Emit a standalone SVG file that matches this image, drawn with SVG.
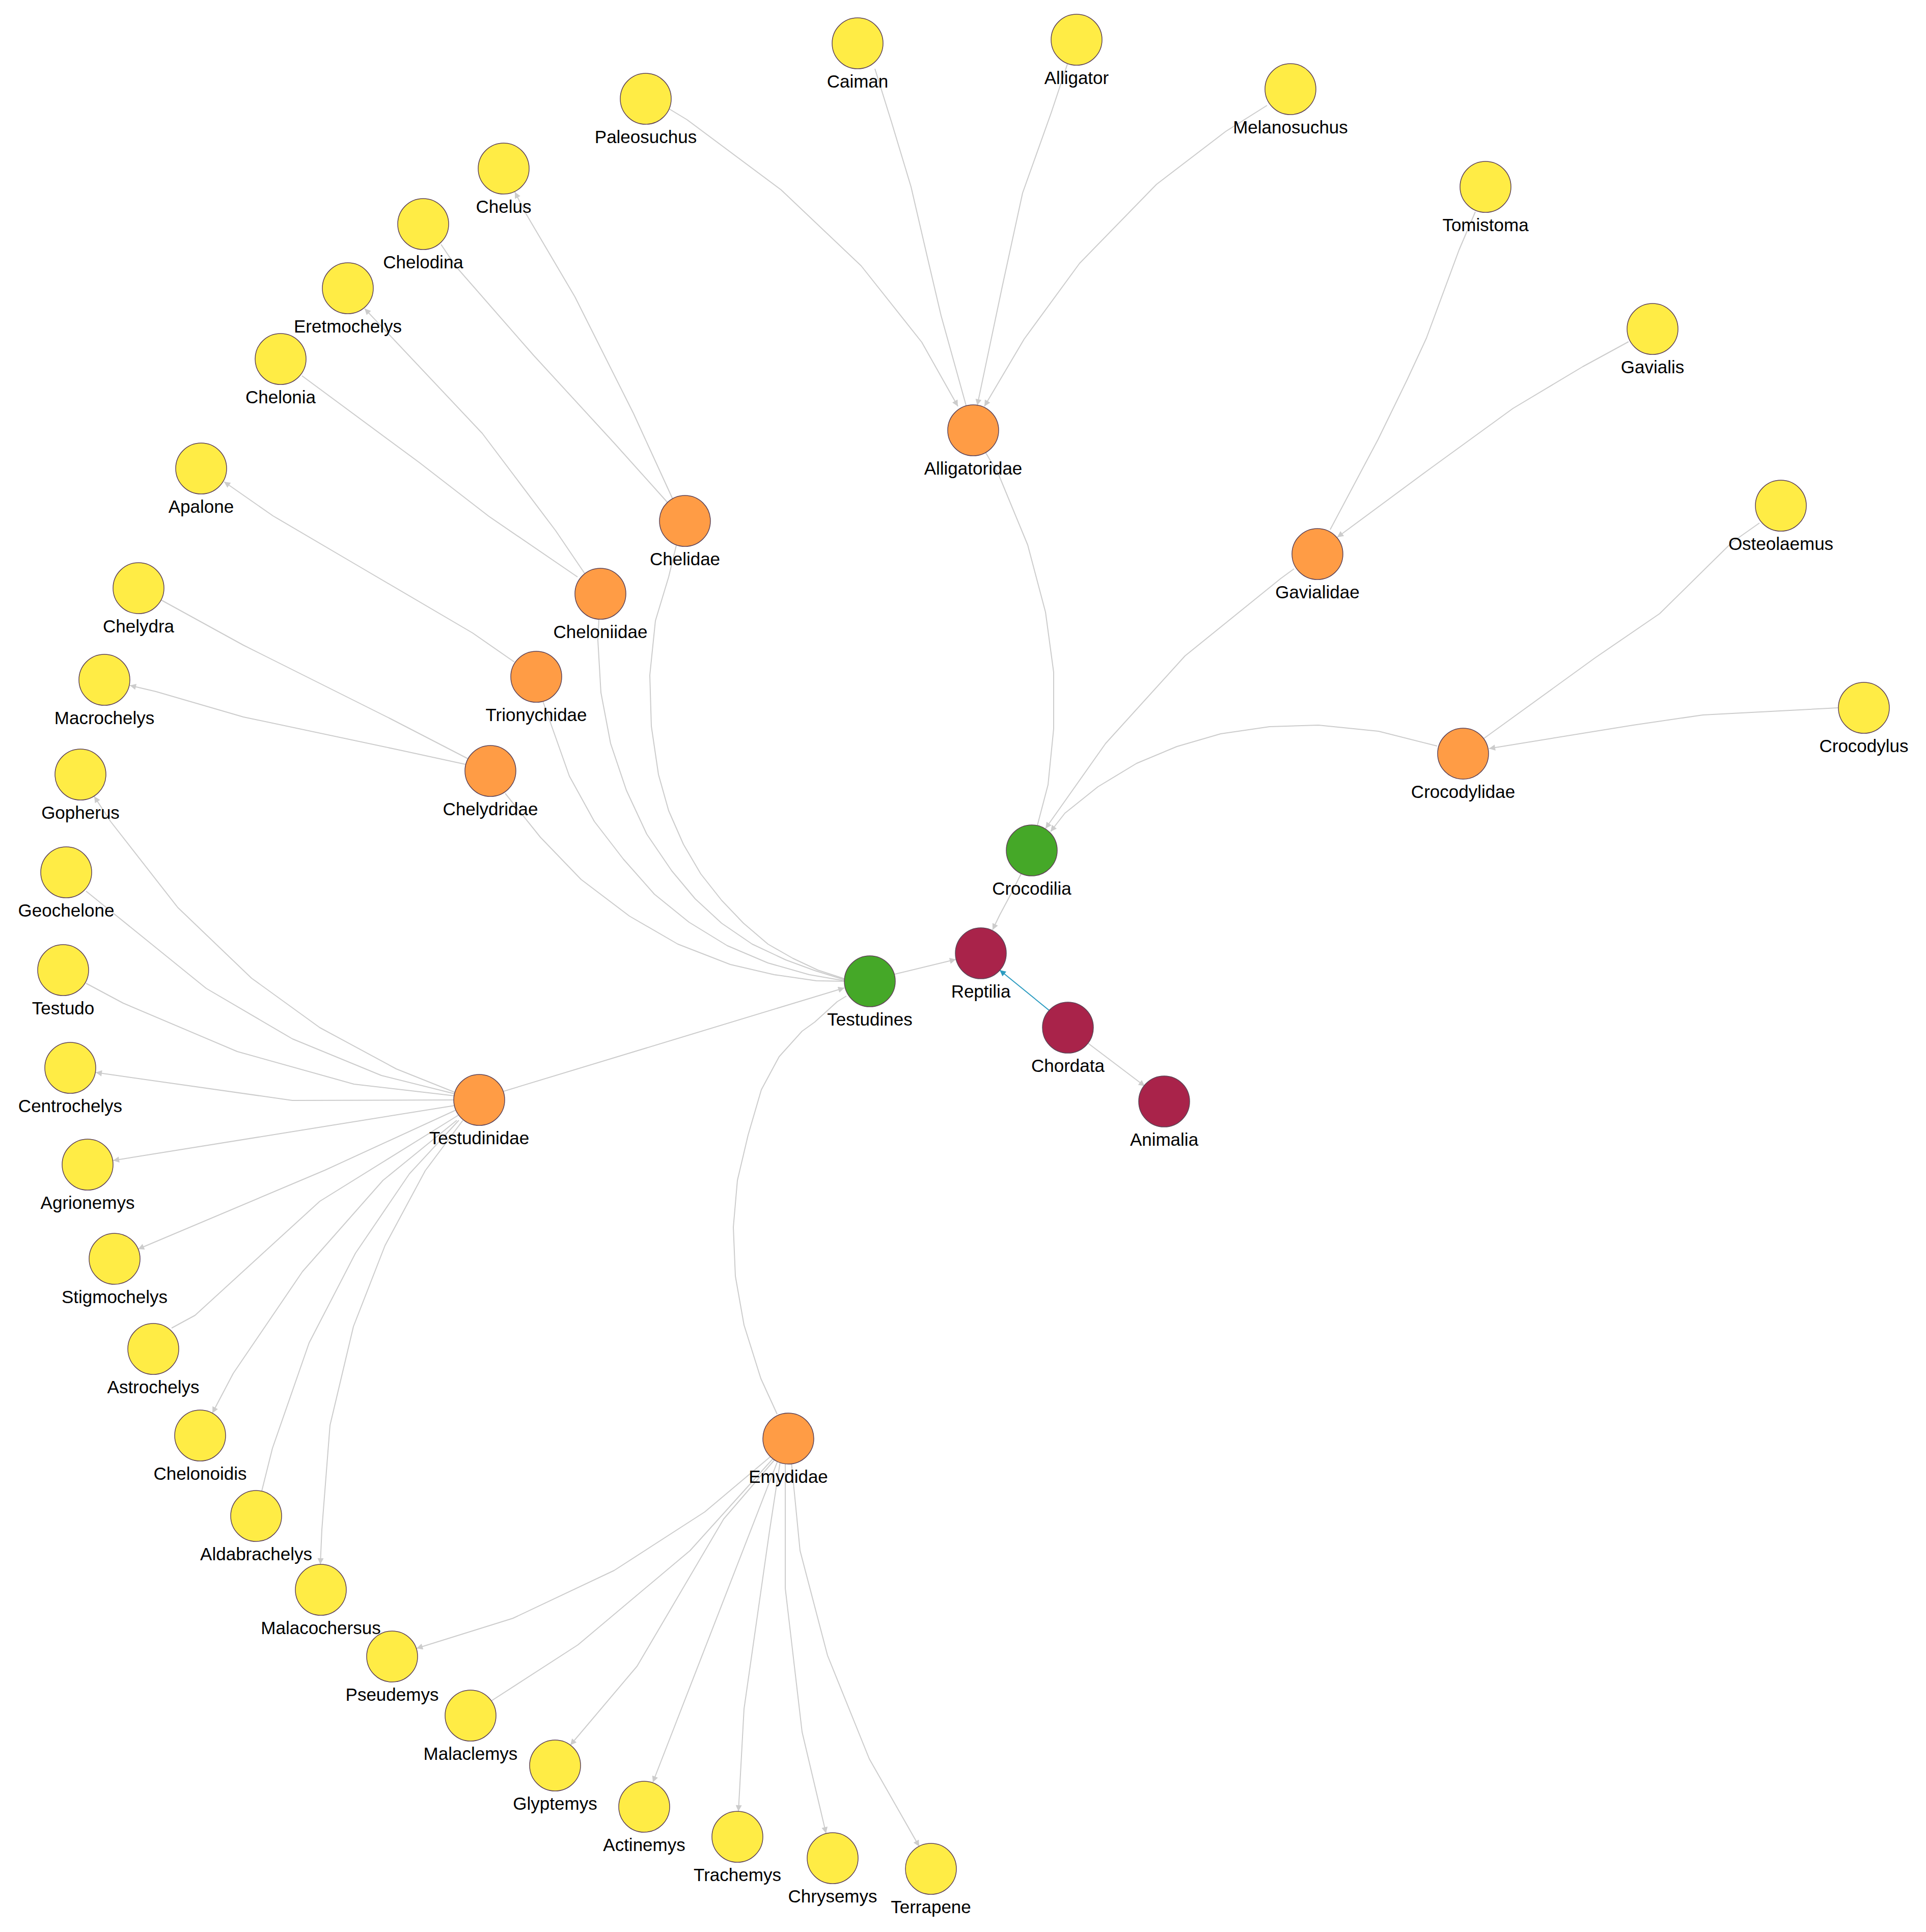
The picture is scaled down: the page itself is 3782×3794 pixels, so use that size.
<svg xmlns="http://www.w3.org/2000/svg" width="3782" height="3794" viewBox="0 0 3782 3794">
<style>
.e{fill:none;stroke:#cccccc;stroke-width:2;stroke-linejoin:round}
.a{marker-end:url(#arr)}
.b{fill:none;stroke:#2a9bc0;stroke-width:2;marker-end:url(#arrb)}
.n circle{stroke:#5e4356;stroke-width:1.5}
.y circle{fill:#ffec45}
.o circle{fill:#ff9c45}
.g circle{fill:#45a828}
.r circle{fill:#a9234a}
text{font-family:"Liberation Sans",Arial,sans-serif;font-size:35px;fill:#000;text-anchor:middle}
</style>
<defs>
<marker id="arr" viewBox="0 0 10 10" refX="10" refY="5" markerWidth="14" markerHeight="12" markerUnits="userSpaceOnUse" orient="auto"><path d="M0,0 L10,5 L0,10 z" fill="#cccccc"/></marker>
<marker id="arrb" viewBox="0 0 10 10" refX="10" refY="5" markerWidth="14" markerHeight="12" markerUnits="userSpaceOnUse" orient="auto"><path d="M0,0 L10,5 L0,10 z" fill="#2a9bc0"/></marker>
</defs>
<rect width="3782" height="3794" fill="#ffffff"/>
<g id="edges">
<path class="e a" d="M1311,212 L1349,235 L1534,373 L1691,522 L1810,672 L1881,798"/>
<path class="e" d="M1718,135 L1751,241 L1789,367 L1821,505 L1848,620 L1897,796"/>
<path class="e a" d="M2096,126 L2064,222 L2008,379 L1968,563 L1919,796"/>
<path class="e a" d="M2488,207 L2407,258 L2271,362 L2120,517 L2011,666 L1933,798"/>
<path class="e" d="M1935,888 L1961,932 L2018,1070 L2053,1202 L2069,1320 L2069,1431 L2058,1541 L2037,1621"/>
<path class="e" d="M2897,416 L2865,491 L2801,664 L2763,746 L2706,863 L2612,1040"/>
<path class="e a" d="M3198,671 L3108,720 L2971,802 L2810,919 L2626,1055"/>
<path class="e a" d="M2541,1117 L2515,1136 L2327,1288 L2171,1460 L2053,1627"/>
<path class="e a" d="M2822,1465 L2707,1436 L2589,1424 L2493,1427 L2397,1441 L2311,1466 L2232,1499 L2156,1545 L2091,1597 L2063,1633"/>
<path class="e" d="M3455,1027 L3401,1065 L3259,1205 L3132,1292 L2914,1450"/>
<path class="e a" d="M3609,1390 L3344,1404 L3207,1424 L2924,1470"/>
<path class="e a" d="M2005,1716 L1987,1752 L1963,1797 L1949,1826"/>
<path class="e a" d="M1757,1913 L1877,1884"/>
<path class="b" d="M2060,1984 L1963,1905"/>
<path class="e a" d="M2137,2049 L2248,2133"/>
<path class="e a" d="M1321,980 L1244,812 L1129,583 L1033,420 L1011,377"/>
<path class="e" d="M1311,987 L1206,870 L1048,698 L895,523 L866,480"/>
<path class="e a" d="M1148,1126 L1091,1042 L947,851 L766,659 L716,606"/>
<path class="e" d="M1134,1133 L960,1014 L823,908 L593,738"/>
<path class="e a" d="M1010,1300 L928,1243 L708,1114 L536,1013 L440,946"/>
<path class="e" d="M919,1490 L766,1411 L478,1267 L316,1178"/>
<path class="e a" d="M914,1501 L785,1473 L478,1408 L306,1358 L255,1346"/>
<path class="e" d="M1328,1071 L1313,1133 L1287,1219 L1276,1326 L1279,1426 L1293,1521 L1313,1592 L1342,1658 L1376,1716 L1417,1768 L1460,1813 L1508,1854 L1557,1882 L1606,1905 L1658,1922"/>
<path class="e" d="M1176,1216 L1174,1257 L1180,1360 L1199,1460 L1230,1552 L1270,1638 L1319,1710 L1365,1765 L1417,1813 L1477,1854 L1543,1885 L1600,1906 L1658,1924"/>
<path class="e" d="M1066,1377 L1118,1524 L1167,1613 L1224,1687 L1285,1756 L1353,1811 L1428,1857 L1508,1891 L1589,1914 L1658,1926"/>
<path class="e" d="M992,1558 L1061,1644 L1141,1727 L1236,1799 L1331,1854 L1434,1894 L1520,1914 L1603,1926 L1658,1927"/>
<path class="e a" d="M989,2143 L1658,1940"/>
<path class="e" d="M1526,2777 L1494,2707 L1461,2602 L1444,2506 L1440,2410 L1448,2318 L1469,2229 L1495,2140 L1530,2075 L1575,2025 L1600,2007 L1644,1967 L1662,1956"/>
<path class="e a" d="M893,2145 L778,2099 L628,2018 L494,1921 L349,1782 L217,1613 L185,1564"/>
<path class="e" d="M893,2148 L749,2112 L574,2040 L405,1941 L169,1750"/>
<path class="e" d="M893,2152 L695,2129 L466,2065 L242,1970 L169,1931"/>
<path class="e a" d="M893,2160 L574,2161 L188,2106"/>
<path class="e a" d="M893,2171 L638,2212 L222,2279"/>
<path class="e a" d="M895,2180 L638,2298 L271,2453"/>
<path class="e" d="M900,2190 L628,2359 L383,2583 L337,2608"/>
<path class="e a" d="M897,2200 L752,2318 L594,2497 L458,2697 L417,2775"/>
<path class="e" d="M901,2200 L804,2305 L698,2461 L607,2637 L535,2844 L514,2928"/>
<path class="e a" d="M909,2200 L835,2299 L756,2446 L694,2605 L648,2799 L632,3004 L629,3072"/>
<path class="e a" d="M1517,2857 L1384,2969 L1206,3084 L1007,3178 L818,3237"/>
<path class="e" d="M1521,2861 L1355,3045 L1135,3230 L965,3340"/>
<path class="e a" d="M1525,2862 L1421,2983 L1251,3272 L1120,3427"/>
<path class="e a" d="M1529,2864 L1282,3500"/>
<path class="e a" d="M1533,2864 L1511,3007 L1461,3356 L1450,3557"/>
<path class="e a" d="M1542,2867 L1542,3119 L1575,3401 L1622,3600"/>
<path class="e a" d="M1554,2871 L1571,3045 L1625,3251 L1707,3454 L1805,3626"/>
</g>
<g id="node-Caiman" class="n y"><circle cx="1684" cy="85" r="50"/><text x="1684" y="172">Caiman</text></g>
<g id="node-Alligator" class="n y"><circle cx="2114" cy="78" r="50"/><text x="2114" y="165">Alligator</text></g>
<g id="node-Paleosuchus" class="n y"><circle cx="1268" cy="194" r="50"/><text x="1268" y="281">Paleosuchus</text></g>
<g id="node-Melanosuchus" class="n y"><circle cx="2534" cy="175" r="50"/><text x="2534" y="262">Melanosuchus</text></g>
<g id="node-Tomistoma" class="n y"><circle cx="2917" cy="367" r="50"/><text x="2917" y="454">Tomistoma</text></g>
<g id="node-Gavialis" class="n y"><circle cx="3245" cy="646" r="50"/><text x="3245" y="733">Gavialis</text></g>
<g id="node-Osteolaemus" class="n y"><circle cx="3497" cy="993" r="50"/><text x="3497" y="1080">Osteolaemus</text></g>
<g id="node-Crocodylus" class="n y"><circle cx="3660" cy="1390" r="50"/><text x="3660" y="1477">Crocodylus</text></g>
<g id="node-Alligatoridae" class="n o"><circle cx="1911" cy="845" r="50"/><text x="1911" y="932">Alligatoridae</text></g>
<g id="node-Gavialidae" class="n o"><circle cx="2587" cy="1088" r="50"/><text x="2587" y="1175">Gavialidae</text></g>
<g id="node-Crocodylidae" class="n o"><circle cx="2873" cy="1480" r="50"/><text x="2873" y="1567">Crocodylidae</text></g>
<g id="node-Crocodilia" class="n g"><circle cx="2026" cy="1670" r="50"/><text x="2026" y="1757">Crocodilia</text></g>
<g id="node-Chelus" class="n y"><circle cx="989" cy="331" r="50"/><text x="989" y="418">Chelus</text></g>
<g id="node-Chelodina" class="n y"><circle cx="831" cy="440" r="50"/><text x="831" y="527">Chelodina</text></g>
<g id="node-Eretmochelys" class="n y"><circle cx="683" cy="566" r="50"/><text x="683" y="653">Eretmochelys</text></g>
<g id="node-Chelonia" class="n y"><circle cx="551" cy="705" r="50"/><text x="551" y="792">Chelonia</text></g>
<g id="node-Apalone" class="n y"><circle cx="395" cy="920" r="50"/><text x="395" y="1007">Apalone</text></g>
<g id="node-Chelydra" class="n y"><circle cx="272" cy="1155" r="50"/><text x="272" y="1242">Chelydra</text></g>
<g id="node-Macrochelys" class="n y"><circle cx="205" cy="1335" r="50"/><text x="205" y="1422">Macrochelys</text></g>
<g id="node-Gopherus" class="n y"><circle cx="158" cy="1521" r="50"/><text x="158" y="1608">Gopherus</text></g>
<g id="node-Geochelone" class="n y"><circle cx="130" cy="1713" r="50"/><text x="130" y="1800">Geochelone</text></g>
<g id="node-Testudo" class="n y"><circle cx="124" cy="1905" r="50"/><text x="124" y="1992">Testudo</text></g>
<g id="node-Centrochelys" class="n y"><circle cx="138" cy="2097" r="50"/><text x="138" y="2184">Centrochelys</text></g>
<g id="node-Agrionemys" class="n y"><circle cx="172" cy="2287" r="50"/><text x="172" y="2374">Agrionemys</text></g>
<g id="node-Stigmochelys" class="n y"><circle cx="225" cy="2472" r="50"/><text x="225" y="2559">Stigmochelys</text></g>
<g id="node-Astrochelys" class="n y"><circle cx="301" cy="2649" r="50"/><text x="301" y="2736">Astrochelys</text></g>
<g id="node-Chelonoidis" class="n y"><circle cx="393" cy="2819" r="50"/><text x="393" y="2906">Chelonoidis</text></g>
<g id="node-Aldabrachelys" class="n y"><circle cx="503" cy="2977" r="50"/><text x="503" y="3064">Aldabrachelys</text></g>
<g id="node-Malacochersus" class="n y"><circle cx="630" cy="3122" r="50"/><text x="630" y="3209">Malacochersus</text></g>
<g id="node-Pseudemys" class="n y"><circle cx="770" cy="3253" r="50"/><text x="770" y="3340">Pseudemys</text></g>
<g id="node-Malaclemys" class="n y"><circle cx="924" cy="3369" r="50"/><text x="924" y="3456">Malaclemys</text></g>
<g id="node-Glyptemys" class="n y"><circle cx="1090" cy="3467" r="50"/><text x="1090" y="3554">Glyptemys</text></g>
<g id="node-Actinemys" class="n y"><circle cx="1265" cy="3548" r="50"/><text x="1265" y="3635">Actinemys</text></g>
<g id="node-Trachemys" class="n y"><circle cx="1448" cy="3607" r="50"/><text x="1448" y="3694">Trachemys</text></g>
<g id="node-Chrysemys" class="n y"><circle cx="1635" cy="3649" r="50"/><text x="1635" y="3736">Chrysemys</text></g>
<g id="node-Terrapene" class="n y"><circle cx="1828" cy="3670" r="50"/><text x="1828" y="3757">Terrapene</text></g>
<g id="node-Chelidae" class="n o"><circle cx="1345" cy="1023" r="50"/><text x="1345" y="1110">Chelidae</text></g>
<g id="node-Cheloniidae" class="n o"><circle cx="1179" cy="1166" r="50"/><text x="1179" y="1253">Cheloniidae</text></g>
<g id="node-Trionychidae" class="n o"><circle cx="1053" cy="1329" r="50"/><text x="1053" y="1416">Trionychidae</text></g>
<g id="node-Chelydridae" class="n o"><circle cx="963" cy="1514" r="50"/><text x="963" y="1601">Chelydridae</text></g>
<g id="node-Testudinidae" class="n o"><circle cx="941" cy="2160" r="50"/><text x="941" y="2247">Testudinidae</text></g>
<g id="node-Emydidae" class="n o"><circle cx="1548" cy="2825" r="50"/><text x="1548" y="2912">Emydidae</text></g>
<g id="node-Testudines" class="n g"><circle cx="1708" cy="1927" r="50"/><text x="1708" y="2014">Testudines</text></g>
<g id="node-Reptilia" class="n r"><circle cx="1926" cy="1872" r="50"/><text x="1926" y="1959">Reptilia</text></g>
<g id="node-Chordata" class="n r"><circle cx="2097" cy="2018" r="50"/><text x="2097" y="2105">Chordata</text></g>
<g id="node-Animalia" class="n r"><circle cx="2286" cy="2163" r="50"/><text x="2286" y="2250">Animalia</text></g>
</svg>
